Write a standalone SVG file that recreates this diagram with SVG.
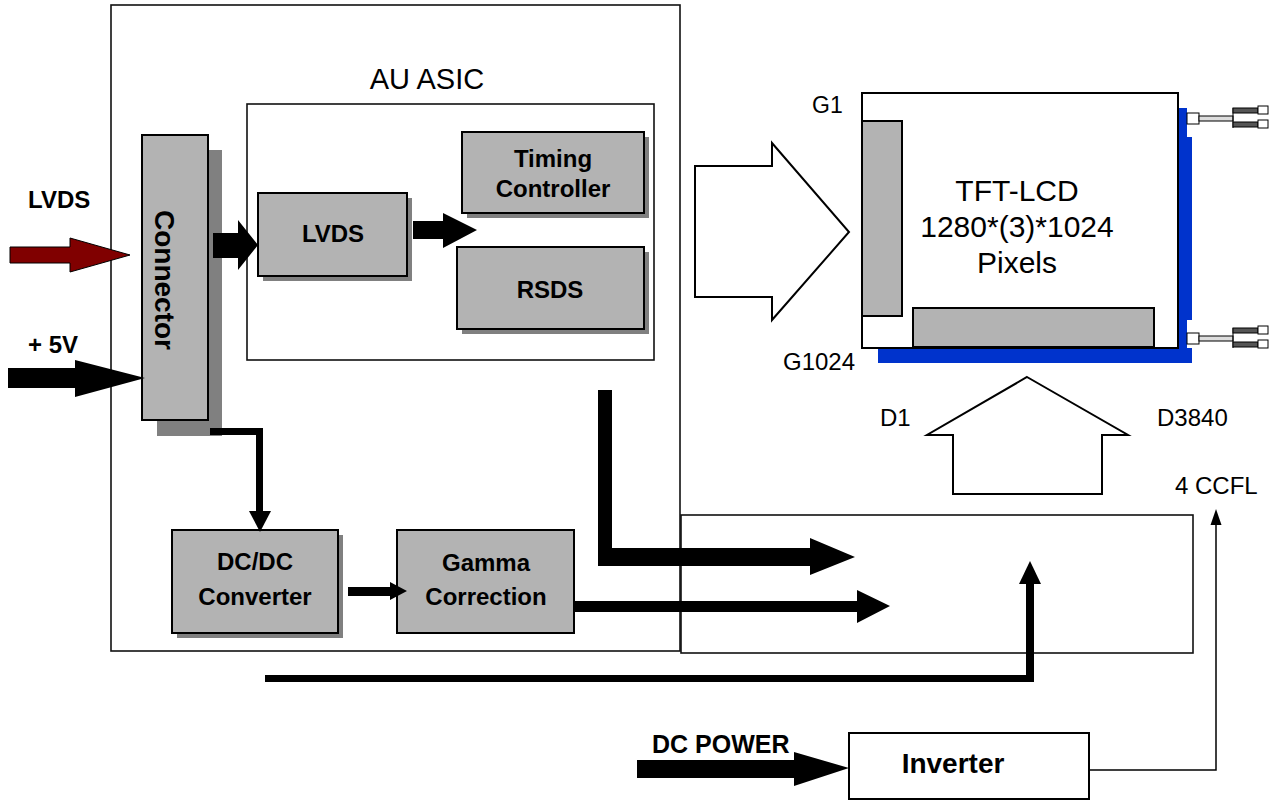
<svg xmlns="http://www.w3.org/2000/svg" width="1272" height="801" viewBox="0 0 1272 801">
<defs>
<style>
.frame{fill:none;stroke:#111;stroke-width:1.6}
.box{fill:#b3b3b3;stroke:#000;stroke-width:2}
.shadow{fill:#808080}
.blk{fill:#000}
.hollow{fill:#fff;stroke:#000;stroke-width:2;stroke-linejoin:miter}
.b{font-family:"Liberation Sans",Arial,sans-serif;font-weight:bold;fill:#000}
.r{font-family:"Liberation Sans",Arial,sans-serif;fill:#000}
.blue{fill:#0033cc}
</style>
</defs>
<rect width="1272" height="801" fill="#fff"/>

<g id="asic">
<rect class="frame" x="111" y="5" width="569" height="646"/>
<text class="r" x="427" y="89" font-size="29" text-anchor="middle">AU ASIC</text>
<rect class="frame" x="247" y="104" width="407" height="256" stroke-width="2"/>
</g>

<g id="lower-box">
<rect class="frame" x="681" y="515" width="512" height="138"/>
</g>

<g id="connector">
<rect class="shadow" x="157" y="150" width="65" height="286"/>
<rect class="box" x="142" y="135" width="66" height="285"/>
<text class="b" font-size="28" text-anchor="middle" transform="translate(155,280) rotate(90)">Connector</text>
</g>

<g id="lvds-block">
<rect class="shadow" x="263" y="198" width="149" height="83"/>
<rect class="box" x="258" y="193" width="149" height="83"/>
<text class="b" x="333" y="242" font-size="24" text-anchor="middle">LVDS</text>
</g>

<g id="timing-controller">
<rect class="shadow" x="467" y="137" width="182" height="81"/>
<rect class="box" x="462" y="132" width="182" height="81"/>
<text class="b" x="553" y="167" font-size="24" text-anchor="middle">Timing</text>
<text class="b" x="553" y="197" font-size="24" text-anchor="middle">Controller</text>
</g>

<g id="rsds">
<rect class="shadow" x="462" y="252" width="187" height="82"/>
<rect class="box" x="457" y="247" width="187" height="82"/>
<text class="b" x="550" y="298" font-size="24" text-anchor="middle">RSDS</text>
</g>

<g id="dcdc">
<rect class="shadow" x="177" y="535" width="166" height="103"/>
<rect class="box" x="172" y="530" width="166" height="103"/>
<text class="b" x="255" y="570" font-size="24" text-anchor="middle">DC/DC</text>
<text class="b" x="255" y="605" font-size="24" text-anchor="middle">Converter</text>
</g>

<g id="gamma">
<rect class="box" x="397" y="530" width="177" height="103"/>
<text class="b" x="486" y="571" font-size="24" text-anchor="middle">Gamma</text>
<text class="b" x="486" y="605" font-size="24" text-anchor="middle">Correction</text>
</g>

<g id="tft-lcd">
<path class="blue" d="M1178,108 H1187 V137 H1192 V320 H1187 V348 H1192 V363 H878 V348 H1178 Z"/>
<rect x="862" y="93" width="316" height="255" fill="#fff" stroke="#000" stroke-width="2"/>
<rect class="box" x="862" y="121" width="40" height="195"/>
<rect class="box" x="913" y="308" width="241" height="39"/>
<text class="r" x="1017" y="201" font-size="30" text-anchor="middle">TFT-LCD</text>
<text class="r" x="1017" y="237" font-size="30" text-anchor="middle">1280*(3)*1024</text>
<text class="r" x="1017" y="273" font-size="30" text-anchor="middle">Pixels</text>
<text class="r" x="812" y="113" font-size="23">G1</text>
<text class="r" x="783" y="370" font-size="24">G1024</text>
</g>

<g id="ccfl-plugs" stroke="#000" stroke-width="1">
<g id="plug-top">
<rect x="1187" y="113" width="12" height="11" fill="#fff"/>
<rect x="1199" y="116" width="34" height="5" fill="#ddd"/>
<line x1="1233" y1="108" x2="1233" y2="128"/>
<rect x="1233" y="108" width="25" height="5" fill="#555"/>
<rect x="1258" y="106" width="10" height="8" fill="#fff"/>
<rect x="1233" y="122" width="25" height="5" fill="#555"/>
<rect x="1258" y="120" width="10" height="8" fill="#fff"/>
</g>
<g id="plug-bottom">
<rect x="1187" y="333" width="12" height="11" fill="#fff"/>
<rect x="1199" y="336" width="34" height="5" fill="#ddd"/>
<line x1="1233" y1="328" x2="1233" y2="348"/>
<rect x="1233" y="328" width="25" height="5" fill="#555"/>
<rect x="1258" y="326" width="10" height="8" fill="#fff"/>
<rect x="1233" y="342" width="25" height="5" fill="#555"/>
<rect x="1258" y="340" width="10" height="8" fill="#fff"/>
</g>
</g>

<g id="inverter">
<rect x="849" y="733" width="240" height="66" fill="#fff" stroke="#000" stroke-width="2"/>
<text class="b" x="953" y="773" font-size="28" text-anchor="middle">Inverter</text>
</g>

<g id="labels">
<text class="b" x="28" y="208" font-size="24">LVDS</text>
<text class="b" x="28" y="353" font-size="24">+ 5V</text>
<text class="r" x="880" y="426" font-size="24">D1</text>
<text class="r" x="1157" y="426" font-size="24">D3840</text>
<text class="r" x="1175" y="494" font-size="24">4 CCFL</text>
<text class="b" x="652" y="753" font-size="25">DC POWER</text>
</g>

<g id="connectors">
<polygon points="10,247 70,247 70,238 130,255 70,272 70,263 10,263" fill="#800000" stroke="#000" stroke-width="1"/>
<polygon class="blk" points="8,368 75,368 75,360 145,378 75,397 75,388 8,388"/>
<polygon class="blk" points="213,233 238,233 238,220 258,245 238,270 238,258 213,258"/>
<polygon class="blk" points="413,221 443,221 443,213 477,230 443,248 443,239 413,239"/>
<polygon class="hollow" points="695,166 772,166 772,143 849,232 772,320 772,297 695,297"/>
<polygon class="hollow" points="1027,377 1128,435 1102,435 1102,494 953,494 953,435 927,435"/>
<path d="M210,431.5 H259.5 V512" fill="none" stroke="#000" stroke-width="7"/>
<polygon class="blk" points="249,511 271,511 260,532"/>
<polygon class="blk" points="348,587 390,587 390,582 407,591 390,600 390,596 348,596"/>
<polygon class="blk" points="598,390 612,390 612,548 810,548 810,538 855,557 810,575 810,566 598,566"/>
<polygon class="blk" points="574,601 857,601 857,590 890,606 857,623 857,612 574,612"/>
<polygon class="blk" points="265,675 1026,675 1026,583 1034,583 1034,682 265,682"/>
<polygon class="blk" points="1019,584 1041,584 1030,561"/>
<path d="M1089,770 H1216 V524" fill="none" stroke="#000" stroke-width="1.5"/>
<polygon class="blk" points="1210.5,525 1221.5,525 1216,509"/>
<polygon class="blk" points="637,760 794,760 794,752 849,768 794,786 794,778 637,778"/>
</g>
</svg>
